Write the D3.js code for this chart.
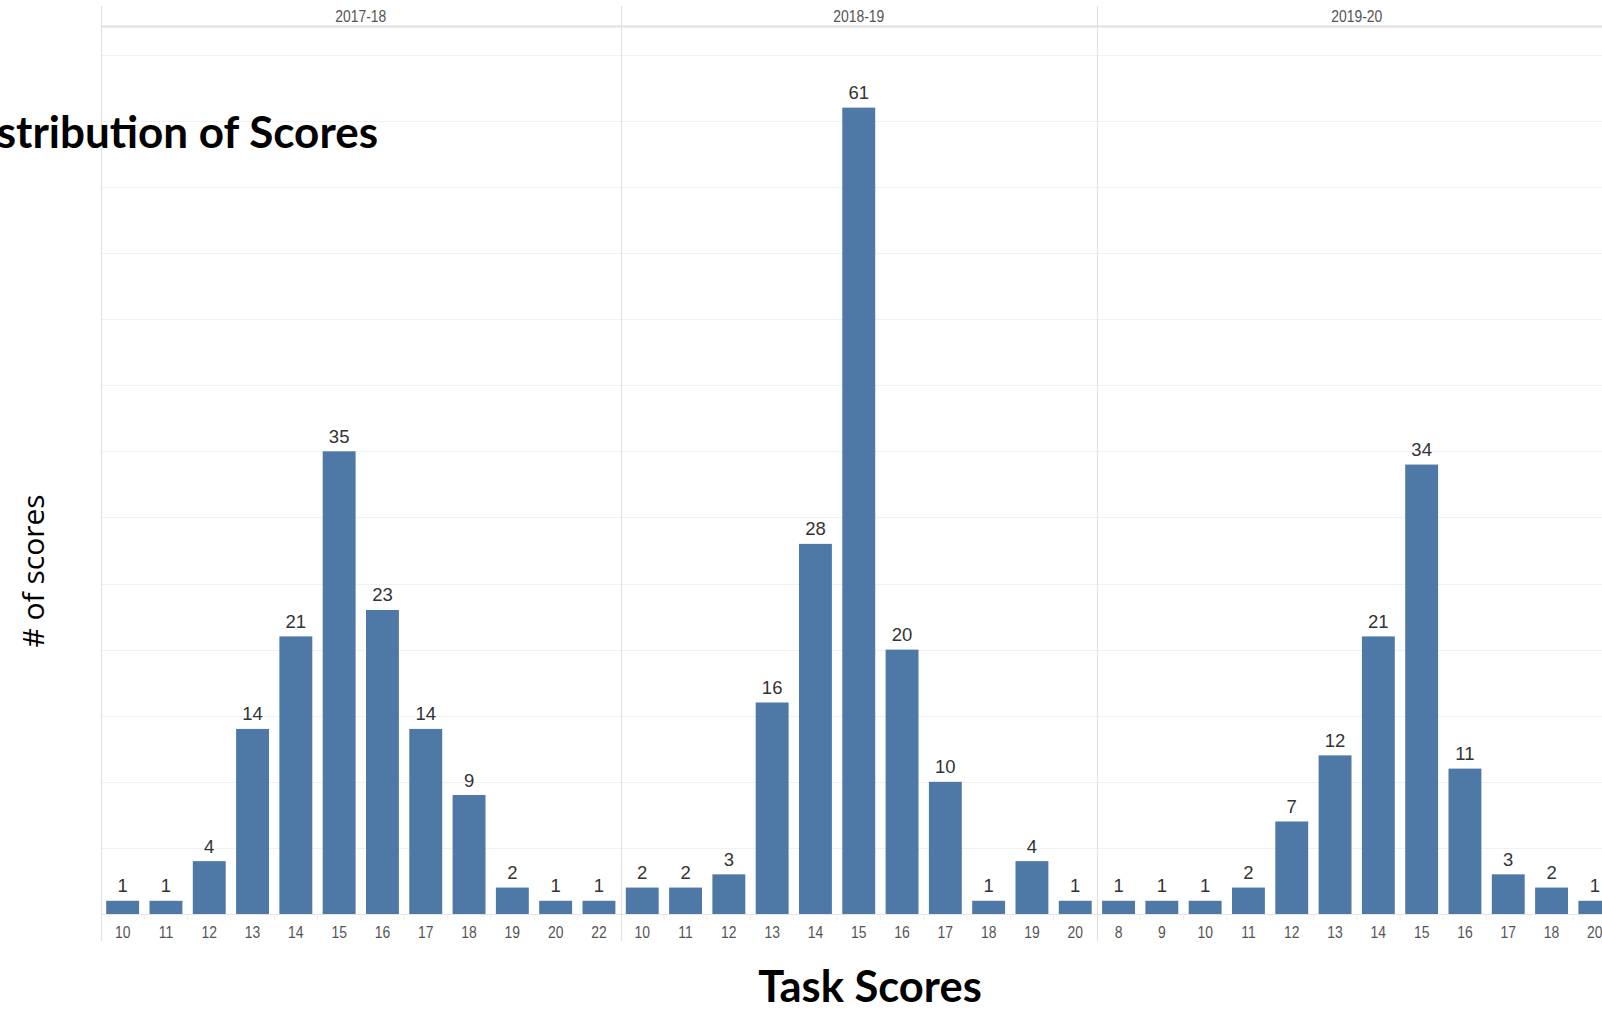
<!DOCTYPE html>
<html>
<head>
<meta charset="utf-8">
<script src="https://cdn.jsdelivr.net/npm/d3@7"></script>
<style>
  html, body { margin: 0; padding: 0; background: #fff; overflow: hidden; }
  svg { display: block; }
</style>
</head>
<body>
<svg id="chart" width="1602" height="1010"></svg>
<script>
// ---- Data ----
const years = ["2017-18", "2018-19", "2019-20"];
const scores1718 = [10, 11, 12, 13, 14, 15, 16, 17, 18, 19, 20, 22];
const counts1718 = [1, 1, 4, 14, 21, 35, 23, 14, 9, 2, 1, 1];
const scores1819 = [10, 11, 12, 13, 14, 15, 16, 17, 18, 19, 20];
const counts1819 = [2, 2, 3, 16, 28, 61, 20, 10, 1, 4, 1];
const scores1920 = [8, 9, 10, 11, 12, 13, 14, 15, 16, 17, 18, 20];
const counts1920 = [1, 1, 1, 2, 7, 12, 21, 34, 11, 3, 2, 1];
const gridValues = [5, 10, 15, 20, 25, 30, 35, 40, 45, 50, 55, 60, 65];
const titleText = "Distribution of Scores";
const xTitle = "Task Scores";
const yTitle = "# of scores";

const panels = [
  { year: years[0], scores: scores1718, counts: counts1718 },
  { year: years[1], scores: scores1819, counts: counts1819 },
  { year: years[2], scores: scores1920, counts: counts1920 }
];

// ---- Layout ----
const svg = d3.select("#chart");
const W = 1602;
const left = 101;
const step = 43.3;
const plotTop = 27;
const baseY = 914;
const barColor = "#4e79a7";
const narrow = "scale(0.82,1)";
const narrowFont = "'Liberation Sans', Arial, sans-serif";

const y = d3.scaleLinear().domain([0, 67.1]).range([baseY, plotTop]);

// gridlines (full width)
svg.append("g").selectAll("line").data(gridValues).join("line")
  .attr("x1", left).attr("x2", W)
  .attr("y1", d => Math.round(y(d)) + 0.5).attr("y2", d => Math.round(y(d)) + 0.5)
  .attr("stroke", "#f1f1f1").attr("stroke-width", 1);

// baseline
svg.append("line").attr("x1", left).attr("x2", W)
  .attr("y1", baseY + 0.5).attr("y2", baseY + 0.5)
  .attr("stroke", "#e4e4e4").attr("stroke-width", 1);

// header line
svg.append("line").attr("x1", left).attr("x2", W)
  .attr("y1", 26.5).attr("y2", 26.5)
  .attr("stroke", "#e6e6e6").attr("stroke-width", 2.5);

let x0 = left;
panels.forEach((p, i) => {
  const n = p.scores.length;
  const x = d3.scaleBand().domain(p.scores.map(String))
    .range([x0, x0 + n * step]).paddingInner(0.24).paddingOuter(0.12);
  const g = svg.append("g");

  // separator
  g.append("line").attr("x1", Math.round(x0) + 0.5).attr("x2", Math.round(x0) + 0.5)
    .attr("y1", 6).attr("y2", 941)
    .attr("stroke", "#e2e2e2").attr("stroke-width", 1.2);

  // header text (condensed)
  g.append("g").attr("transform", `translate(${x0 + n * step / 2},21.5)`)
    .append("text").attr("transform", narrow)
    .attr("text-anchor", "middle")
    .attr("font-family", narrowFont)
    .attr("font-size", 17).attr("fill", "#555")
    .text(p.year);

  // category ticks (faint separators below baseline)
  g.append("g").selectAll("line").data(p.scores.slice(1)).join("line")
    .attr("x1", d => x(String(d)) - x.step() * 0.12)
    .attr("x2", d => x(String(d)) - x.step() * 0.12)
    .attr("y1", baseY).attr("y2", baseY + 6)
    .attr("stroke", "#eeeeee");

  const data = p.scores.map((s, k) => ({ s: String(s), c: p.counts[k] }));

  // bars
  g.append("g").selectAll("rect").data(data).join("rect")
    .attr("x", d => x(d.s)).attr("width", x.bandwidth())
    .attr("y", d => y(d.c)).attr("height", d => baseY - y(d.c))
    .attr("fill", barColor);

  // value labels
  g.append("g").selectAll("text").data(data).join("text")
    .attr("x", d => x(d.s) + x.bandwidth() / 2)
    .attr("y", d => y(d.c) - 8.5)
    .attr("text-anchor", "middle")
    .attr("font-family", "'Liberation Sans', Arial, sans-serif")
    .attr("font-size", 18.5).attr("fill", "#333")
    .text(d => d.c);

  // x axis tick labels (condensed)
  const axis = d3.axisBottom(x).tickSize(0).tickPadding(0);
  const ax = g.append("g").attr("transform", `translate(0,${baseY})`).call(axis);
  ax.select(".domain").remove();
  ax.selectAll("text")
    .attr("y", 0).attr("dy", 0)
    .attr("transform", `translate(0,24) ${narrow}`)
    .attr("font-family", narrowFont)
    .attr("font-size", 17).attr("fill", "#555");

  x0 += n * step;
});

// Title (clipped on the left, as in the reference)
svg.append("text").attr("x", 378).attr("y", 147.5)
  .attr("text-anchor", "end")
  .attr("font-family", "Lato, 'Open Sans', sans-serif")
  .attr("font-weight", "bold").attr("font-size", 44).attr("fill", "#000")
  .text(titleText);

// X title
svg.append("text").attr("x", 870).attr("y", 1001.5)
  .attr("text-anchor", "middle")
  .attr("font-family", "Lato, 'Open Sans', sans-serif")
  .attr("font-weight", "bold").attr("font-size", 43.5).attr("fill", "#000")
  .text(xTitle);

// Y title
svg.append("text")
  .attr("transform", "translate(44,571) rotate(-90)")
  .attr("text-anchor", "middle")
  .attr("font-family", "'Open Sans', Lato, sans-serif")
  .attr("font-size", 30).attr("fill", "#000")
  .text(yTitle);
</script>
</body>
</html>
